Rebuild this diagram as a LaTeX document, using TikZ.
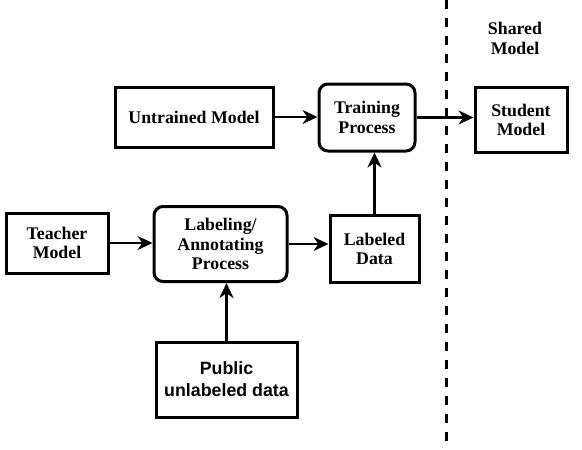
\documentclass[tikz,border=0pt]{standalone}
\usepackage{fontspec}
\setmainfont{Liberation Serif}
\setsansfont{Liberation Sans}
\usetikzlibrary{arrows.meta}
\tikzset{
  every picture/.style={>=Stealth},
  box/.style={draw, line width=3pt, font=\fontsize{17.8}{19.5}\selectfont\bfseries, align=center, inner sep=0pt},
  rbox/.style={box, rounded corners=9pt},
  link/.style={->, line width=2.8pt, >={Stealth[length=15pt,width=14pt]}},
  sep/.style={line width=3pt, dash pattern=on 9pt off 9pt},
}

\begin{document}
\begin{tikzpicture}[x=1pt,y=-1pt]
\useasboundingbox (0,0) rectangle (582,450);
% left side
\node[box, minimum width=158, minimum height=60] (untrained) at (194,117) {Untrained Model};
\node[rbox, minimum width=96, minimum height=67] (training) at (367,117.5) {Training\\Process};
\node[box, minimum width=102, minimum height=60] (teacher) at (57,243) {Teacher\\Model};
\node[rbox, minimum width=133, minimum height=75] (labeling) at (220.5,244) {Labeling/\\Annotating\\Process};
\node[box, minimum width=89, minimum height=67] (labeled) at (374.5,249) {Labeled\\Data};
\node[box, minimum width=141, minimum height=75, font=\fontsize{17.8}{22}\selectfont\sffamily\bfseries] (public) at (226.5,379.5) {Public\\unlabeled data};
% right side
\draw[sep] (446.5,0) -- (446.5,450);
\node[font=\fontsize{17.8}{20}\selectfont\bfseries, align=center] (shared) at (515,38) {Shared\\Model};
\node[box, minimum width=92, minimum height=65] (student) at (521,120) {Student\\Model};
% arrows
\foreach \a/\b in {untrained/training, teacher/labeling, labeling/labeled, training/student}
  \draw[link] (\a.east) -- (\a.east -| \b.west);
\draw[link] (labeled.north) -- (labeled.north |- training.south);
\draw[link] (public.north) -- (public.north |- labeling.south);
\end{tikzpicture}
\end{document}
